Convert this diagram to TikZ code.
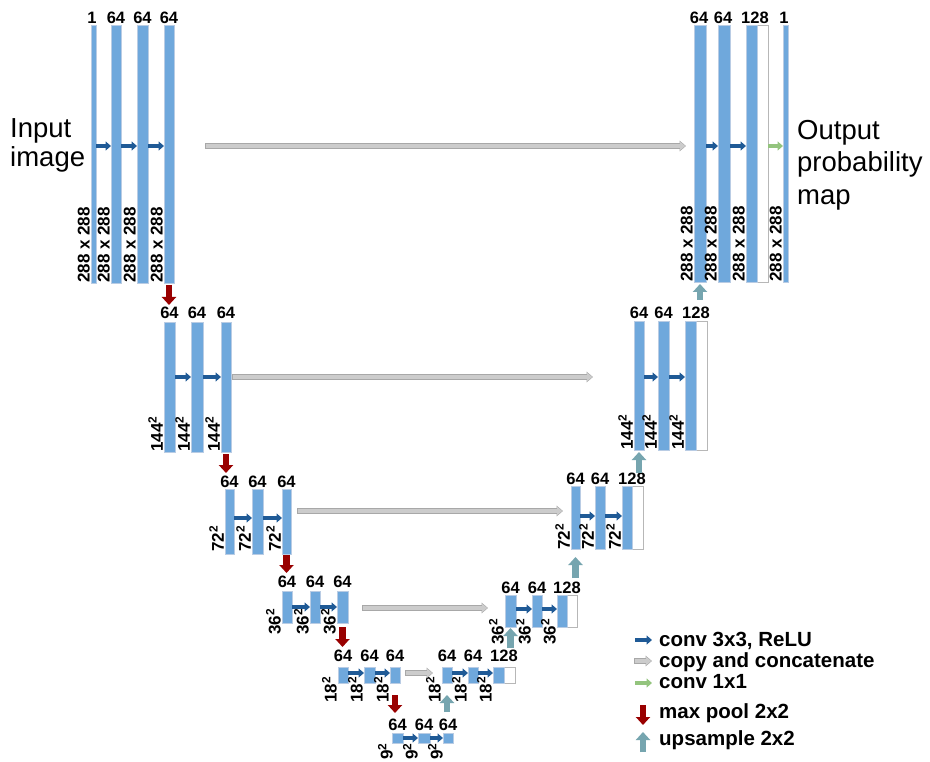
\documentclass[tikz,border=0pt]{standalone}
\usepackage{fontspec}
\setmainfont{Liberation Sans}
\usetikzlibrary{arrows.meta}
\definecolor{barfill}{HTML}{6FA8DC}
\definecolor{baredge}{HTML}{B9CCE4}
\definecolor{wedge}{HTML}{B7B7B7}
\definecolor{convblue}{HTML}{1F5A96}
\definecolor{copyfill}{HTML}{CCCCCC}
\definecolor{copyedge}{HTML}{A8A8A8}
\definecolor{greenc}{HTML}{93C47D}
\definecolor{poolred}{HTML}{990000}
\definecolor{upteal}{HTML}{76A5AF}
\newcommand{\blk}[6]{\node[#1, minimum width={((#5)-(#3))*1pt}, minimum height={((#6)-(#4))*1pt}, anchor=north west] (#2) at (#3,#4) {};}
\tikzset{
  blk/.style={rectangle, fill=barfill, draw=baredge, line width=0.8pt, inner sep=0pt, outer sep=0pt},
  wblk/.style={rectangle, fill=white, draw=wedge, line width=0.9pt, inner sep=0pt, outer sep=0pt},
  tlab/.style={font=\bfseries\fontsize{16.5}{16.5}\selectfont, inner sep=0pt, anchor=base},
  rlab/.style={font=\bfseries\fontsize{17}{17}\selectfont, inner sep=0pt, rotate=90, anchor=south west},
  leg/.style={font=\bfseries\fontsize{20.5}{20.5}\selectfont, inner sep=0pt, anchor=base west},
  bigtxt/.style={font=\fontsize{27.5}{27.5}\selectfont, inner sep=0pt, anchor=base west},
  conv/.style={draw=convblue, line width=3.6pt, -{Triangle[length=5.5pt,width=9pt]}},
  onebyone/.style={draw=greenc, line width=3.6pt, -{Triangle[length=5.5pt,width=9pt]}},
  copyarr/.style={draw=copyfill, line width=4pt, shorten >=0.8pt, -{Triangle[length=5pt,width=8pt]},
     preaction={draw=copyedge, line width=5.6pt, shorten >=0pt, shorten <=-0.8pt, -{Triangle[length=6.5pt,width=10.5pt]}}},
  pool/.style={draw=poolred, line width=6.5pt, -{Triangle[length=8pt,width=14pt]}},
  upa/.style={draw=upteal, line width=6.5pt, -{Triangle[length=8pt,width=14pt]}}
}
\begin{document}
\begin{tikzpicture}[x=1pt,y=-1pt]
\fill[white] (0,0) rectangle (930,762);
\useasboundingbox (0,0) rectangle (930,762);

% ---------- Level 1 left
\blk{blk}{l1a}{91}{25}{96}{283}
\blk{blk}{l1b}{111}{25}{121}{283}
\blk{blk}{l1c}{137}{25}{148}{283}
\blk{blk}{l1d}{164}{25}{174}{283}
\node[tlab] (t1a) at (92,24) {1};
\node[tlab] (t1b) at (116,24) {64};
\node[tlab] (t1c) at (142.5,24) {64};
\node[tlab] (t1d) at (169,24) {64};
\node[rlab] (s1a) at (90,283) {288 x 288};
\node[rlab] (s1b) at (110,283) {288 x 288};
\node[rlab] (s1c) at (136,283) {288 x 288};
\node[rlab] (s1d) at (163,283) {288 x 288};
\draw[conv] ([yshift=8pt]l1a.east) -- ([yshift=8pt]l1b.west);
\draw[conv] ([yshift=8pt]l1b.east) -- ([yshift=8pt]l1c.west);
\draw[conv] ([yshift=8pt]l1c.east) -- ([yshift=8pt]l1d.west);

% ---------- Level 1 right
\blk{blk}{r1a}{694}{25}{706}{282}
\blk{blk}{r1b}{718}{25}{730}{282}
\blk{wblk}{r1w}{757}{25}{768}{282}
\blk{blk}{r1c}{746}{25}{757}{282}
\blk{blk}{r1d}{783}{25}{788}{282}
\node[tlab] (u1a) at (699,24) {64};
\node[tlab] (u1b) at (723,24) {64};
\node[tlab] (u1c) at (755,24) {128};
\node[tlab] (u1d) at (784,24) {1};
\node[rlab] (v1a) at (693,282) {288 x 288};
\node[rlab] (v1b) at (717,282) {288 x 288};
\node[rlab] (v1c) at (745,282) {288 x 288};
\node[rlab] (v1d) at (782,282) {288 x 288};
\draw[conv] ([yshift=7.5pt]r1a.east) -- ([yshift=7.5pt]r1b.west);
\draw[conv] ([yshift=7.5pt]r1b.east) -- ([yshift=7.5pt]r1c.west);
\draw[onebyone] ([yshift=7.5pt]r1w.east) -- ([yshift=7.5pt]r1d.west);
\node[bigtxt] (in1) at (10,138) {Input};
\node[bigtxt] (in2) at (10,167) {image};
\node[bigtxt] (out1) at (797,140) {Output};
\node[bigtxt] (out2) at (797,172) {probability};
\node[bigtxt] (out3) at (797,205) {map};

% ---------- Level 2 left
\blk{blk}{l2a}{164}{322}{175}{452}
\blk{blk}{l2b}{191}{322}{203}{452}
\blk{blk}{l2c}{221}{322}{231}{452}
\node[tlab] (t2a) at (169.5,319) {64};
\node[tlab] (t2b) at (197,319) {64};
\node[tlab] (t2c) at (226,319) {64};
\node[rlab] (s2a) at (163,452) {144\textsuperscript{2}};
\node[rlab] (s2b) at (190,452) {144\textsuperscript{2}};
\node[rlab] (s2c) at (220,452) {144\textsuperscript{2}};
\draw[conv] ([yshift=10pt]l2a.east) -- ([yshift=10pt]l2b.west);
\draw[conv] ([yshift=10pt]l2b.east) -- ([yshift=10pt]l2c.west);

% ---------- Level 2 right
\blk{blk}{r2a}{634}{321}{644}{450}
\blk{blk}{r2b}{658}{321}{669}{450}
\blk{wblk}{r2w}{696}{321}{707}{450}
\blk{blk}{r2c}{685}{321}{696}{450}
\node[tlab] (u2a) at (639,319) {64};
\node[tlab] (u2b) at (663.5,319) {64};
\node[tlab] (u2c) at (696,319) {128};
\node[rlab] (v2a) at (633,450) {144\textsuperscript{2}};
\node[rlab] (v2b) at (657,450) {144\textsuperscript{2}};
\node[rlab] (v2c) at (684,450) {144\textsuperscript{2}};
\draw[conv] ([yshift=8.5pt]r2a.east) -- ([yshift=8.5pt]r2b.west);
\draw[conv] ([yshift=8.5pt]r2b.east) -- ([yshift=8.5pt]r2c.west);

% ---------- Level 3 left
\blk{blk}{l3a}{225}{489}{234}{554}
\blk{blk}{l3b}{252}{489}{263}{554}
\blk{blk}{l3c}{282}{489}{291}{554}
\node[tlab] (t3a) at (229.5,487) {64};
\node[tlab] (t3b) at (257.5,487) {64};
\node[tlab] (t3c) at (286.5,487) {64};
\node[rlab] (s3a) at (224,552) {72\textsuperscript{2}};
\node[rlab] (s3b) at (251,552) {72\textsuperscript{2}};
\node[rlab] (s3c) at (281,552) {72\textsuperscript{2}};
\draw[conv] ([yshift=3.5pt]l3a.east) -- ([yshift=3.5pt]l3b.west);
\draw[conv] ([yshift=3.5pt]l3b.east) -- ([yshift=3.5pt]l3c.west);

% ---------- Level 3 right
\blk{blk}{r3a}{571}{486}{580}{549}
\blk{blk}{r3b}{595}{486}{605}{549}
\blk{wblk}{r3w}{632}{486}{643}{549}
\blk{blk}{r3c}{622}{486}{632}{549}
\node[tlab] (u3a) at (575.5,484) {64};
\node[tlab] (u3b) at (600,484) {64};
\node[tlab] (u3c) at (632,484) {128};
\node[rlab] (v3a) at (570,550) {72\textsuperscript{2}};
\node[rlab] (v3b) at (594,550) {72\textsuperscript{2}};
\node[rlab] (v3c) at (621,550) {72\textsuperscript{2}};
\draw[conv] ([yshift=1.5pt]r3a.east) -- ([yshift=1.5pt]r3b.west);
\draw[conv] ([yshift=1.5pt]r3b.east) -- ([yshift=1.5pt]r3c.west);

% ---------- Level 4 left
\blk{blk}{l4a}{282}{591}{292}{623}
\blk{blk}{l4b}{310}{591}{320}{623}
\blk{blk}{l4c}{337}{591}{348}{623}
\node[tlab] (t4a) at (287,587) {64};
\node[tlab] (t4b) at (315,587) {64};
\node[tlab] (t4c) at (342.5,587) {64};
\node[rlab] (s4a) at (281,635) {36\textsuperscript{2}};
\node[rlab] (s4b) at (309,635) {36\textsuperscript{2}};
\node[rlab] (s4c) at (336,635) {36\textsuperscript{2}};
\draw[conv] (l4a.east) -- (l4b.west);
\draw[conv] (l4b.east) -- (l4c.west);

% ---------- Level 4 right
\blk{blk}{r4a}{505}{595}{516}{627}
\blk{blk}{r4b}{532}{595}{542}{627}
\blk{wblk}{r4w}{567}{595}{577}{627}
\blk{blk}{r4c}{557}{595}{567}{627}
\node[tlab] (u4a) at (510.5,593) {64};
\node[tlab] (u4b) at (537,593) {64};
\node[tlab] (u4c) at (567,593) {128};
\node[rlab] (v4a) at (504,645) {36\textsuperscript{2}};
\node[rlab] (v4b) at (531,645) {36\textsuperscript{2}};
\node[rlab] (v4c) at (556,645) {36\textsuperscript{2}};
\draw[conv] ([yshift=2pt]r4a.east) -- ([yshift=2pt]r4b.west);
\draw[conv] ([yshift=2pt]r4b.east) -- ([yshift=2pt]r4c.west);

% ---------- Level 5 left
\blk{blk}{l5a}{338}{667}{348}{683}
\blk{blk}{l5b}{364}{667}{375}{683}
\blk{blk}{l5c}{390}{667}{400}{683}
\node[tlab] (t5a) at (343,661) {64};
\node[tlab] (t5b) at (369.5,661) {64};
\node[tlab] (t5c) at (395,661) {64};
\node[rlab] (s5a) at (337,703) {18\textsuperscript{2}};
\node[rlab] (s5b) at (363,703) {18\textsuperscript{2}};
\node[rlab] (s5c) at (389,703) {18\textsuperscript{2}};
\draw[conv] ([yshift=2pt]l5a.east) -- ([yshift=2pt]l5b.west);
\draw[conv] ([yshift=2pt]l5b.east) -- ([yshift=2pt]l5c.west);

% ---------- Level 5 right
\blk{blk}{r5a}{442}{667}{452}{683}
\blk{blk}{r5b}{468}{667}{478}{683}
\blk{wblk}{r5w}{504}{667}{515}{683}
\blk{blk}{r5c}{493}{667}{504}{683}
\node[tlab] (u5a) at (447,661) {64};
\node[tlab] (u5b) at (473,661) {64};
\node[tlab] (u5c) at (504,661) {128};
\node[rlab] (v5a) at (441,703) {18\textsuperscript{2}};
\node[rlab] (v5b) at (467,703) {18\textsuperscript{2}};
\node[rlab] (v5c) at (492,703) {18\textsuperscript{2}};
\draw[conv] ([yshift=2pt]r5a.east) -- ([yshift=2pt]r5b.west);
\draw[conv] ([yshift=2pt]r5b.east) -- ([yshift=2pt]r5c.west);

% ---------- Level 6 (bottom)
\blk{blk}{b6a}{392}{733}{403}{743}
\blk{blk}{b6b}{418}{733}{430}{743}
\blk{blk}{b6c}{443}{733}{453}{743}
\node[tlab] (t6a) at (397.5,730) {64};
\node[tlab] (t6b) at (424,730) {64};
\node[tlab] (t6c) at (448,730) {64};
\node[rlab] (s6a) at (393,760) {9\textsuperscript{2}};
\node[rlab] (s6b) at (418,760) {9\textsuperscript{2}};
\node[rlab] (s6c) at (443,760) {9\textsuperscript{2}};
\draw[conv] (b6a.east) -- (b6b.west);
\draw[conv] (b6b.east) -- (b6c.west);

% ---------- copy and concatenate
\coordinate (c1s) at (206,146); \coordinate (c1e) at (686,146);
\coordinate (c2s) at (233,377); \coordinate (c2e) at (593,377);
\coordinate (c3s) at (298,511); \coordinate (c3e) at (563,511);
\coordinate (c4s) at (363,608); \coordinate (c4e) at (488,608);
\coordinate (c5s) at (406,673); \coordinate (c5e) at (433,673);
\draw[copyarr] (c1s) -- (c1e);
\draw[copyarr] (c2s) -- (c2e);
\draw[copyarr] (c3s) -- (c3e);
\draw[copyarr] (c4s) -- (c4e);
\draw[copyarr] (c5s) -- (c5e);

% ---------- max pool
\draw[pool] ([yshift=-2pt]l1d.south) -- ++(0,20);
\draw[pool] ([yshift=-2pt]l2c.south) -- ++(0,19);
\draw[pool] ([yshift=-1pt]l3c.south) -- ++(0,18);
\draw[pool] ([yshift=-4pt]l4c.south) -- ++(0,20);
\draw[pool] ([yshift=-12pt]l5c.south) -- ++(0,18);

% ---------- upsample
\draw[upa] ([yshift=-18pt]r1a.south) -- ([yshift=-2pt]r1a.south);
\draw[upa] ([yshift=-23pt]r2a.south) -- ([yshift=-2pt]r2a.south);
\draw[upa] ([yshift=-29pt]r3a.south) -- ([yshift=-8pt]r3a.south);
\draw[upa] ([yshift=-21pt]r4a.south) -- ([yshift=-1pt]r4a.south);
\draw[upa] ([yshift=-29pt]r5a.south) -- ([yshift=-12pt]r5a.south);

% ---------- legend
\coordinate (k1a) at (635,640); \coordinate (k1b) at (652,640);
\coordinate (k2a) at (635,661); \coordinate (k2b) at (652,661);
\coordinate (k3a) at (635,683); \coordinate (k3b) at (652,683);
\coordinate (k4a) at (643,705); \coordinate (k4b) at (643,725);
\coordinate (k5a) at (643,752); \coordinate (k5b) at (643,732);
\draw[conv] (k1a) -- (k1b);
\draw[copyarr] (k2a) -- (k2b);
\draw[onebyone] (k3a) -- (k3b);
\draw[pool] (k4a) -- (k4b);
\draw[upa] (k5a) -- (k5b);
\node[leg] (g1) at (659,646) {conv 3x3, ReLU};
\node[leg] (g2) at (659,667) {copy and concatenate};
\node[leg] (g3) at (659,688) {conv 1x1};
\node[leg] (g4) at (659,718) {max pool 2x2};
\node[leg] (g5) at (659,745) {upsample 2x2};
\end{tikzpicture}
\end{document}
